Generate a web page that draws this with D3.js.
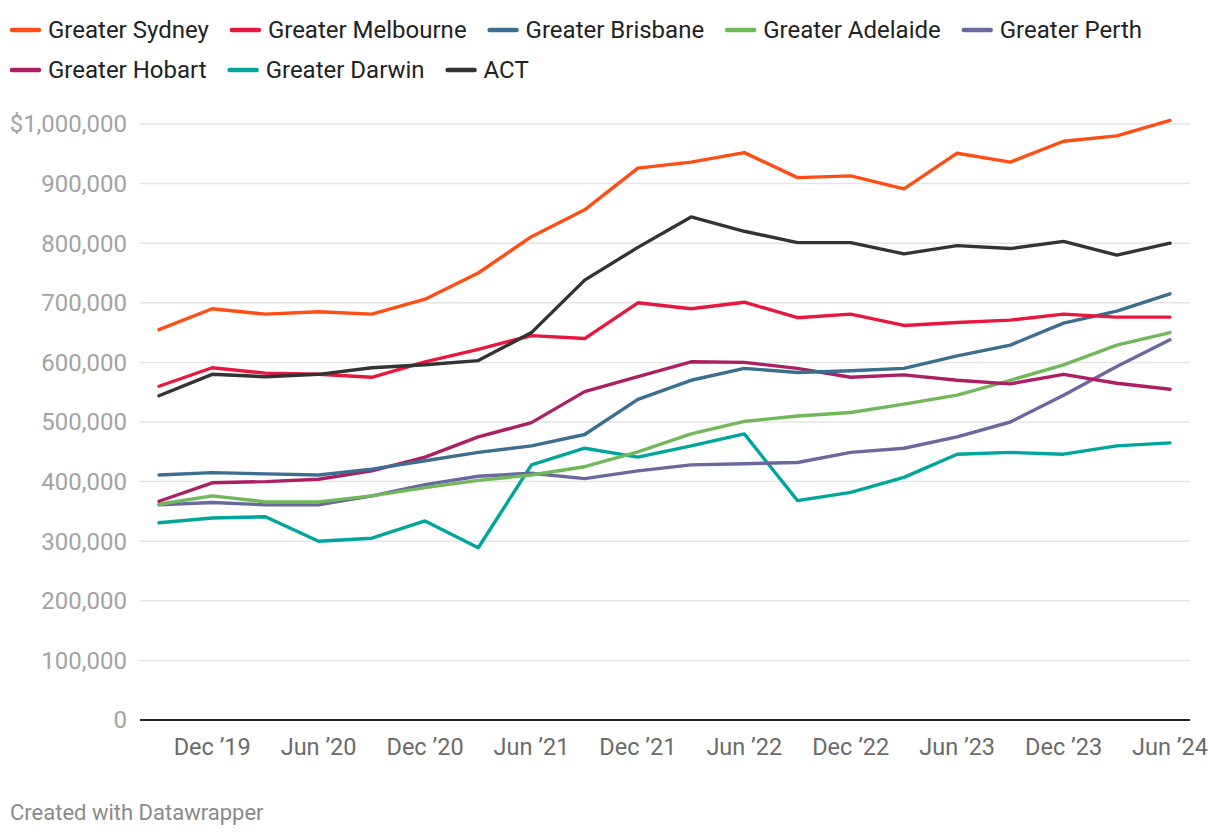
<!DOCTYPE html>
<html><head><meta charset="utf-8">
<script src="https://cdn.jsdelivr.net/npm/d3@7"></script>
<style>
html,body{margin:0;padding:0;background:#fff;}
svg{display:block;font-family:Roboto,"Noto Sans",sans-serif;}
</style></head>
<body>
<svg id="chart" width="1220" height="838"></svg>
<script>
const quarters = ["Sep '19","Dec '19","Mar '20","Jun '20","Sep '20","Dec '20","Mar '21","Jun '21","Sep '21","Dec '21","Mar '22","Jun '22","Sep '22","Dec '22","Mar '23","Jun '23","Sep '23","Dec '23","Mar '24","Jun '24"];
const tickLabels = ["Dec '19","Jun '20","Dec '20","Jun '21","Dec '21","Jun '22","Dec '22","Jun '23","Dec '23","Jun '24"];
const yTicks = [0,100000,200000,300000,400000,500000,600000,700000,800000,900000,1000000];

const sydney    = [655000,690000,681000,685000,681000,706000,750000,811000,856000,926000,936000,952000,910000,913000,891000,951000,936000,971000,980000,1006000];
const melbourne = [560000,591000,582000,580000,575000,601000,622000,645000,640000,700000,690000,701000,675000,681000,662000,667000,671000,681000,676000,676000];
const brisbane  = [411000,415000,413000,411000,421000,435000,449000,460000,479000,538000,570000,590000,583000,586000,590000,611000,629000,666000,686000,715000];
const adelaide  = [362000,376000,366000,366000,376000,390000,402000,411000,425000,450000,480000,501000,510000,516000,530000,545000,570000,596000,629000,650000];
const perth     = [361000,365000,361000,361000,376000,395000,409000,414000,405000,418000,428000,430000,432000,449000,456000,475000,500000,545000,593000,638000];
const hobart    = [367000,398000,400000,404000,418000,441000,475000,499000,551000,576000,601000,600000,590000,575000,579000,570000,564000,580000,565000,555000];
const darwin    = [331000,339000,341000,300000,305000,334000,289000,428000,456000,441000,460000,480000,368000,382000,407000,446000,449000,446000,460000,465000];
const act       = [544000,580000,576000,580000,591000,596000,603000,650000,738000,793000,844000,820000,801000,801000,782000,796000,791000,803000,780000,800000];

const seriesNames = ["Greater Sydney","Greater Melbourne","Greater Brisbane","Greater Adelaide","Greater Perth","Greater Hobart","Greater Darwin","ACT"];
const seriesColors = ["#fd4e16","#e8173e","#3c6e8f","#71b85a","#6b689e","#ac1f64","#00a59c","#333333"];
const seriesValues = [sydney,melbourne,brisbane,adelaide,perth,hobart,darwin,act];

const svg = d3.select("#chart");
const plot = {left:140, right:1190, top:124, bottom:720};

const x = d3.scalePoint().domain(quarters).range([159,1170]);
const y = d3.scaleLinear().domain([0,1000000]).range([plot.bottom, plot.top]);

// gridlines
svg.append("g").selectAll("line").data(yTicks.filter(d=>d>0)).join("line")
  .attr("x1",plot.left).attr("x2",plot.right)
  .attr("y1",d=>y(d)).attr("y2",d=>y(d))
  .attr("stroke","#e5e5e5").attr("stroke-width",1.5);

// y labels
const fmt = d3.format(",");
svg.append("g").selectAll("text").data(yTicks).join("text")
  .attr("x",127).attr("y",d=>y(d)).attr("dy","0.35em")
  .attr("text-anchor","end").attr("font-size",24).attr("fill","#a3a3a3")
  .text(d=> d===1000000 ? "$"+fmt(d) : fmt(d));

// x axis labels
svg.append("g").selectAll("text").data(tickLabels).join("text")
  .attr("x",d=>x(d)).attr("y",747).attr("dy","0.35em")
  .attr("text-anchor","middle").attr("font-size",23.5).attr("fill","#6b6b6b")
  .text(d=>d.replace("'","\u2019"));

// lines
const line = d3.line().x((d,i)=>x(quarters[i])).y(d=>y(d)).curve(d3.curveLinear);
const order = [6,4,3,5,2,1,7,0];
svg.append("g").selectAll("path").data(order).join("path")
  .attr("d",i=>line(seriesValues[i]))
  .attr("fill","none").attr("stroke",i=>seriesColors[i])
  .attr("stroke-width",3.4).attr("stroke-linejoin","round").attr("stroke-linecap","round");

// baseline
svg.append("line").attr("x1",plot.left).attr("x2",plot.right)
  .attr("y1",plot.bottom).attr("y2",plot.bottom)
  .attr("stroke","#222").attr("stroke-width",2);

// legend
const rows = [[0,1,2,3,4],[5,6,7]];
const rowY = [30,70];
rows.forEach((r,ri)=>{
  let cx = 10;
  r.forEach(i=>{
    const g = svg.append("g");
    g.append("line").attr("x1",cx+2).attr("x2",cx+29).attr("y1",rowY[ri]).attr("y2",rowY[ri])
      .attr("stroke",seriesColors[i]).attr("stroke-width",4.5).attr("stroke-linecap","round");
    const t = g.append("text").attr("x",cx+38).attr("y",rowY[ri]).attr("dy","0.35em")
      .attr("font-size",24).attr("fill","#222").text(seriesNames[i]);
    cx = cx + 38 + t.node().getComputedTextLength() + 21;
  });
});

// footer
svg.append("text").attr("x",10).attr("y",812).attr("dy","0.35em")
  .attr("font-size",22).attr("fill","#8a8a8a").text("Created with Datawrapper");
</script>
</body></html>
